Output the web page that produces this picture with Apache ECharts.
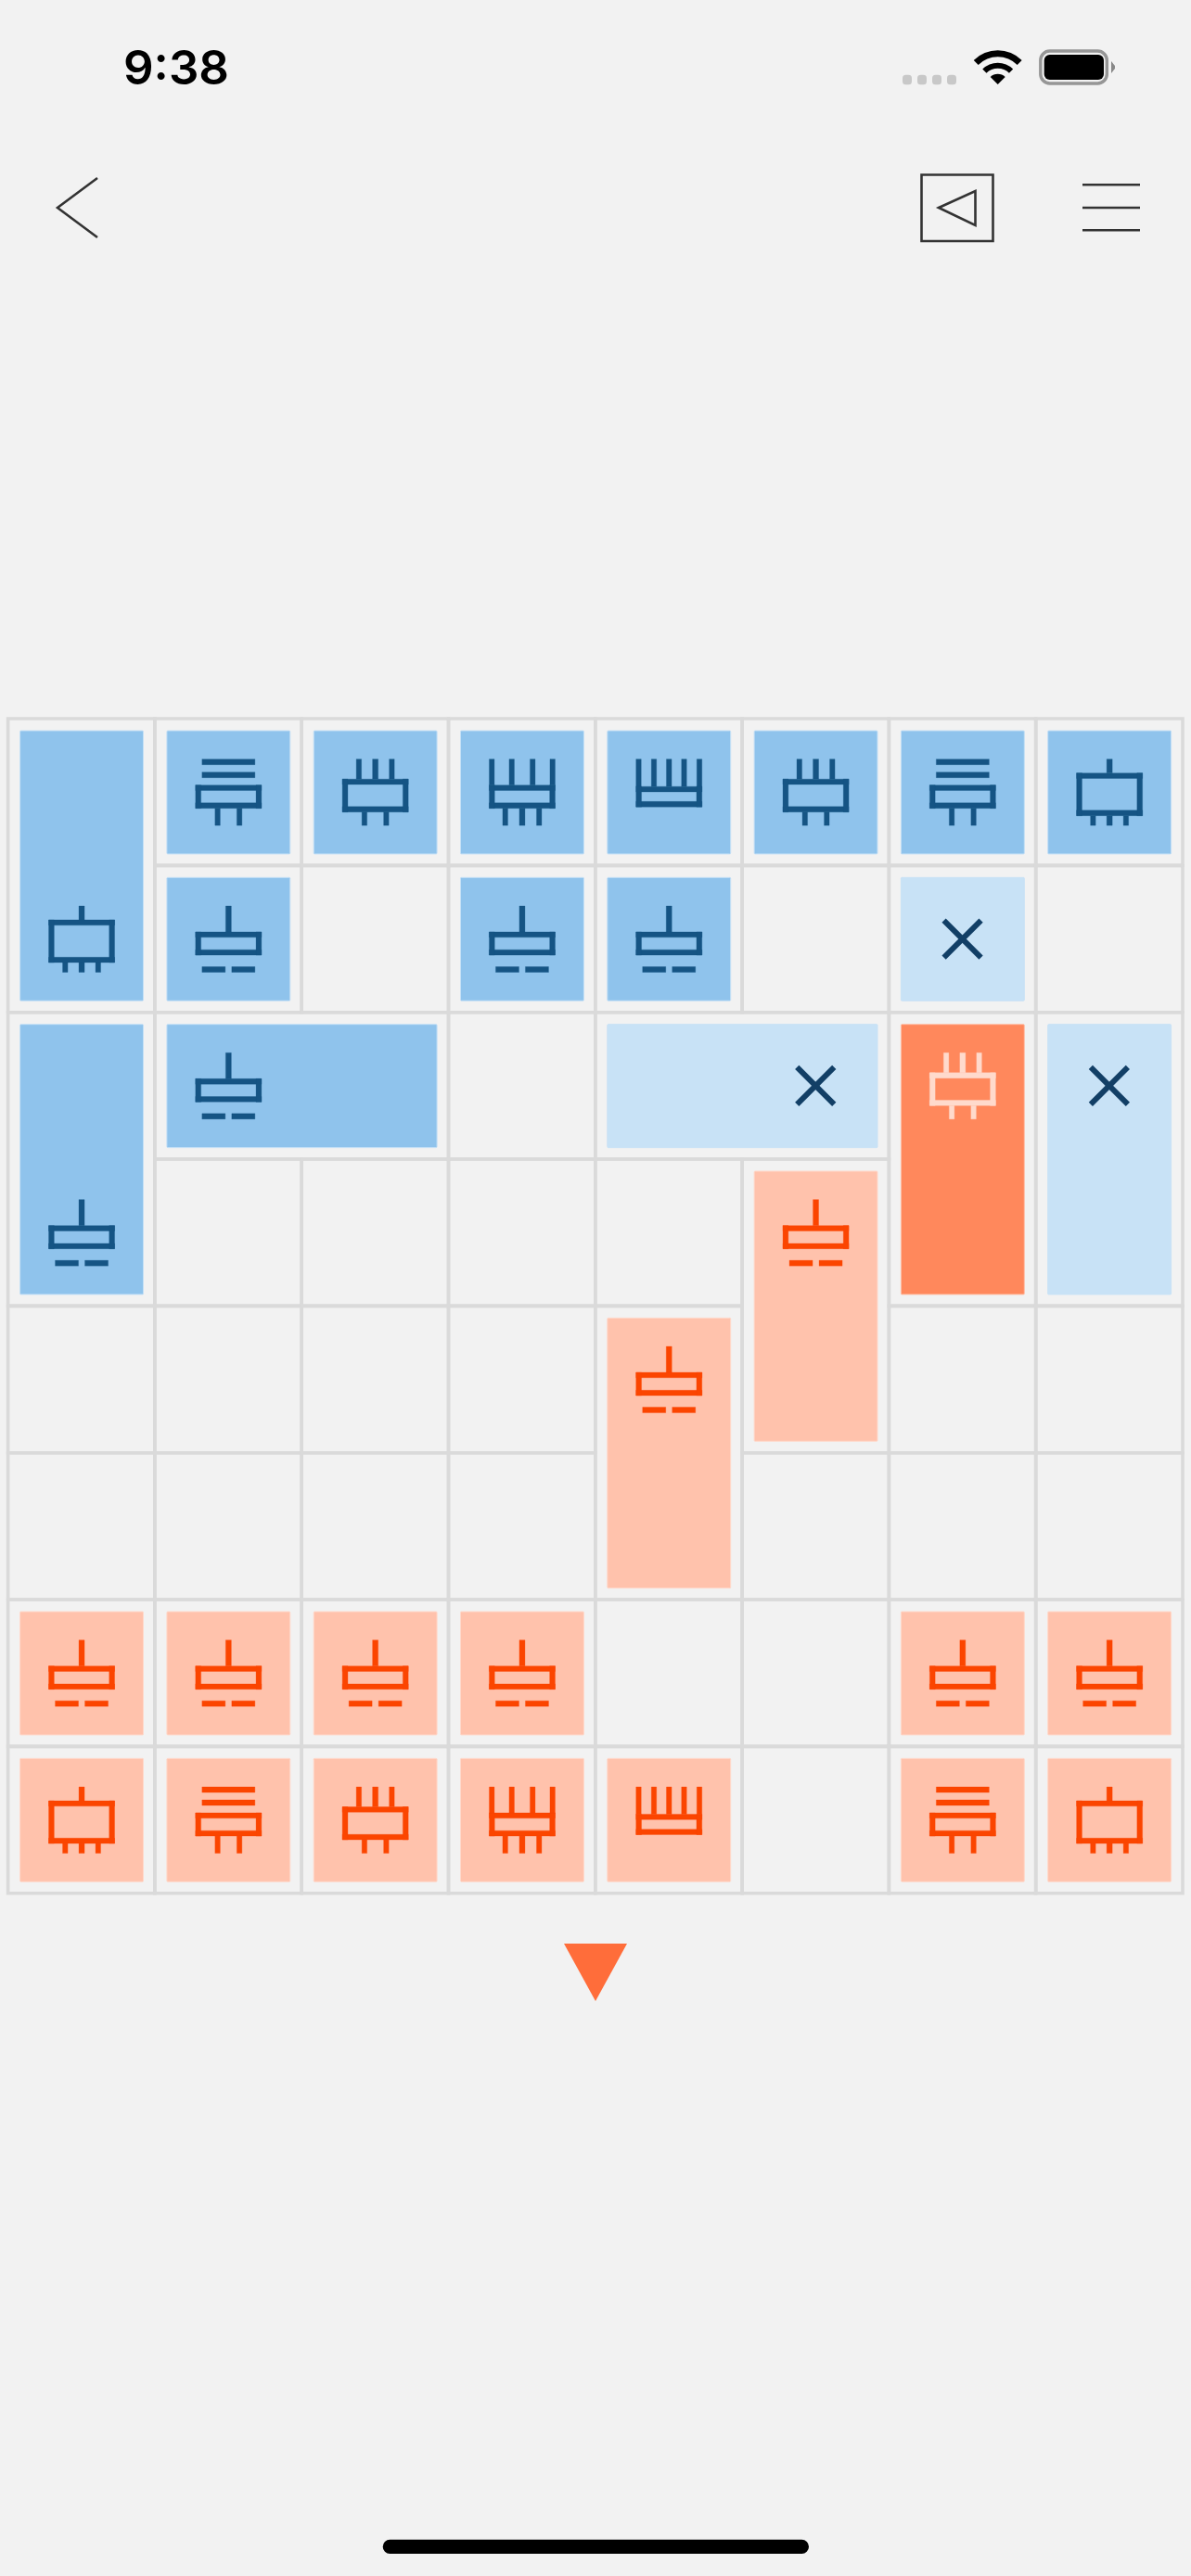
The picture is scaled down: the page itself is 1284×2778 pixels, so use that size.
<!DOCTYPE html>
<html>
<head>
<meta charset="utf-8">
<style>
  html, body { margin: 0; padding: 0; background: #f2f2f2; }
  #board { width: 1284px; height: 2778px; }
</style>
<script src="https://cdn.jsdelivr.net/npm/echarts@6/dist/echarts.min.js"></script>
</head>
<body>
<div id="board"></div>
<script>
// board size
var colCount = 8;
var rowCount = 8;

// tiles, one entry per tile, all arrays line up
var tileCols   = [0,1,2,3,4,5,6,7, 1,3,4,6, 0,1,4,6,7, 5,4, 0,1,2,3,6,7, 0,1,2,3,4,6,7];
var tileRows   = [0,0,0,0,0,0,0,0, 1,1,1,1, 2,2,2,2,2, 3,4, 6,6,6,6,6,6, 7,7,7,7,7,7,7];
var tileSpanX  = [1,1,1,1,1,1,1,1, 1,1,1,1, 1,2,2,1,1, 1,1, 1,1,1,1,1,1, 1,1,1,1,1,1,1];
var tileSpanY  = [2,1,1,1,1,1,1,1, 1,1,1,1, 2,1,1,2,2, 2,2, 1,1,1,1,1,1, 1,1,1,1,1,1,1];
var iconCols   = [0,1,2,3,4,5,6,7, 1,3,4,6, 0,1,5,6,7, 5,4, 0,1,2,3,6,7, 0,1,2,3,4,6,7];
var iconRows   = [1,0,0,0,0,0,0,0, 1,1,1,1, 3,2,2,2,2, 3,4, 6,6,6,6,6,6, 7,7,7,7,7,7,7];
var tileTones  = ["blue","blue","blue","blue","blue","blue","blue","blue",
                  "blue","blue","blue","pale",
                  "blue","blue","pale","orange","pale",
                  "peach","peach",
                  "peach","peach","peach","peach","peach","peach",
                  "peach","peach","peach","peach","peach","peach","peach"];
var tileGlyphs = ["oneThree","twoBars","threeTwo","fourThree","fiveTop","threeTwo","twoBars","oneThree",
                  "oneDash","oneDash","oneDash","cross",
                  "oneDash","oneDash","cross","threeTwo","cross",
                  "oneDash","oneDash",
                  "oneDash","oneDash","oneDash","oneDash","oneDash","oneDash",
                  "oneThree","twoBars","threeTwo","fourThree","fiveTop","twoBars","oneThree"];

var tones = {
  blue:   { fill: "#8fc3ec", edge: "#c5e0f6", ink: "#155484" },
  pale:   { fill: "#c8e2f6", edge: "#c8e2f6", ink: "#123f66" },
  orange: { fill: "#ff885c", edge: "#ffc0a8", ink: "#ffdacc" },
  peach:  { fill: "#ffc2ac", edge: "#ffd9cb", ink: "#fb4500" }
};

// glyph shapes, px offsets from the middle of a cell
var glyphs = {
  oneThree:  { box: [-35.5,-20.5,35.5,25.5], bars: [[-3,-35.5,3,-20.5],[-20.5,25.5,-15,36],[-3,25.5,3,36],[15,25.5,20.5,36]] },
  oneDash:   { box: [-35.5,-7.5,35.5,17.5],  bars: [[-3,-35.5,3,-7.5],[-28.5,30,-3.5,36],[3.5,30,28.5,36]] },
  twoBars:   { box: [-35.5,-7.5,35.5,17.5],  bars: [[-28.5,-35.5,28.5,-29.5],[-28.5,-21.5,28.5,-15.5],[-14.5,17.5,-9,36],[9,17.5,14.5,36]] },
  threeTwo:  { box: [-35.5,-14,35.5,21.5],   bars: [[-20.5,-35.5,-15,-14],[-3,-35.5,3,-14],[15,-35.5,20.5,-14],[-14.5,21.5,-9,36],[9,21.5,14.5,36]] },
  fourThree: { box: [-35.5,-7.5,35.5,17.5],  bars: [[-35.5,-35.5,-30,-7.5],[-14,-35.5,-8.5,-7.5],[8.5,-35.5,14,-7.5],[30,-35.5,35.5,-7.5],[-21,17.5,-15.5,36],[-3,17.5,3,36],[15.5,17.5,21,36]] },
  fiveTop:   { box: [-35.5,-6,35.5,16],      bars: [[-35.5,-35.5,-30,-6],[-19,-35.5,-13.5,-6],[-2.8,-35.5,2.8,-6],[13.5,-35.5,19,-6],[30,-35.5,35.5,-6]] },
  cross:     { lines: [[-20,-20,20,20],[-20,20,20,-20]] }
};

var tileInset = 13;
var tileInsetEnd = 12.4;
var strokeW = 5.8;

var myChart = echarts.init(document.getElementById("board"));

// cells not covered by a tile get their own outline
var covered = {};
tileCols.forEach(function (c, i) {
  for (var x = c; x < c + tileSpanX[i]; x++) {
    for (var y = tileRows[i]; y < tileRows[i] + tileSpanY[i]; y++) covered[x + "_" + y] = true;
  }
});
var outlineData = tileCols.map(function (c, i) {
  return [c, tileRows[i], tileSpanX[i], tileSpanY[i]];
});
for (var r = 0; r < rowCount; r++) {
  for (var c = 0; c < colCount; c++) {
    if (!covered[c + "_" + r]) outlineData.push([c, r, 1, 1]);
  }
}

var tileData = tileCols.map(function (c, i) {
  return [c, tileRows[i], tileSpanX[i], tileSpanY[i], iconCols[i], iconRows[i], i];
});

function renderOutline(params, api) {
  var a = api.coord([api.value(0), api.value(1)]);
  var b = api.coord([api.value(0) + api.value(2), api.value(1) + api.value(3)]);
  return {
    type: "rect",
    shape: { x: a[0], y: a[1], width: b[0] - a[0], height: b[1] - a[1] },
    style: { fill: null, stroke: "#dadada", lineWidth: 3.6 }
  };
}

function renderTile(params, api) {
  var i = api.value(6);
  var tone = tones[tileTones[i]];
  var glyph = glyphs[tileGlyphs[i]];
  var a = api.coord([api.value(0), api.value(1)]);
  var b = api.coord([api.value(0) + api.value(2), api.value(1) + api.value(3)]);
  var mid = api.coord([api.value(4) + 0.5, api.value(5) + 0.5]);
  var kids = [{
    type: "rect",
    shape: {
      x: a[0] + tileInset,
      y: a[1] + tileInset,
      width: b[0] - a[0] - tileInset - tileInsetEnd,
      height: b[1] - a[1] - tileInset - tileInsetEnd,
      r: 1
    },
    style: { fill: tone.fill, stroke: tone.edge, lineWidth: 1 }
  }];
  function bar(x0, y0, x1, y1) {
    kids.push({
      type: "rect",
      shape: { x: mid[0] + 0.3 + x0, y: mid[1] + y0, width: x1 - x0, height: y1 - y0 },
      style: { fill: tone.ink, stroke: tone.ink, lineWidth: 0.3 }
    });
  }
  if (glyph.box) {
    var q = glyph.box;
    bar(q[0], q[1], q[2], q[1] + strokeW);
    bar(q[0], q[3] - strokeW, q[2], q[3]);
    bar(q[0], q[1], q[0] + strokeW, q[3]);
    bar(q[2] - strokeW, q[1], q[2], q[3]);
  }
  (glyph.bars || []).forEach(function (s) { bar(s[0], s[1], s[2], s[3]); });
  (glyph.lines || []).forEach(function (s) {
    kids.push({
      type: "line",
      shape: { x1: mid[0] + s[0], y1: mid[1] + s[1], x2: mid[0] + s[2], y2: mid[1] + s[3] },
      style: { stroke: tone.ink, lineWidth: 6, lineCap: "butt" }
    });
  });
  return { type: "group", children: kids };
}

var chrome = "#333333";
var option = {
  backgroundColor: "#f2f2f2",
  animation: false,
  grid: { left: 8.6, top: 775, width: 1266.4, height: 1266.7 },
  xAxis: { type: "value", min: 0, max: colCount, interval: 1, show: false },
  yAxis: { type: "value", min: 0, max: rowCount, interval: 1, inverse: true, show: false },
  series: [
    { type: "custom", name: "cells", coordinateSystem: "cartesian2d", silent: true, clip: false, data: outlineData, renderItem: renderOutline },
    { type: "custom", name: "tiles", coordinateSystem: "cartesian2d", silent: true, clip: false, data: tileData, renderItem: renderTile }
  ],
  graphic: [
    // status bar
    { type: "text", left: 133, top: 50, style: { text: "9:38", font: "600 51px Inter", fill: "#000" } },
    { type: "rect", shape: { x: 973, y: 80.7, width: 10, height: 10.5, r: 3.5 }, style: { fill: "#c8c8c8" } },
    { type: "rect", shape: { x: 989, y: 80.7, width: 10, height: 10.5, r: 3.5 }, style: { fill: "#c8c8c8" } },
    { type: "rect", shape: { x: 1005, y: 80.7, width: 10, height: 10.5, r: 3.5 }, style: { fill: "#c8c8c8" } },
    { type: "rect", shape: { x: 1021, y: 80.7, width: 10, height: 10.5, r: 3.5 }, style: { fill: "#c8c8c8" } },
    { type: "sector", shape: { cx: 1075.7, cy: 91, r0: 29.7, r: 36.7, startAngle: -Math.PI * 0.75, endAngle: -Math.PI * 0.25 }, style: { fill: "#000" } },
    { type: "sector", shape: { cx: 1075.7, cy: 91, r0: 17.3, r: 23.3, startAngle: -Math.PI * 0.75, endAngle: -Math.PI * 0.25 }, style: { fill: "#000" } },
    { type: "sector", shape: { cx: 1075.7, cy: 91, r0: 0, r: 11.3, startAngle: -Math.PI * 0.75, endAngle: -Math.PI * 0.25 }, style: { fill: "#000" } },
    { type: "rect", shape: { x: 1121.8, y: 55, width: 71.5, height: 35, r: 10 }, style: { fill: null, stroke: "#969696", lineWidth: 3.4 } },
    { type: "rect", shape: { x: 1125.7, y: 59, width: 64.3, height: 27, r: 6 }, style: { fill: "#000" } },
    { type: "polygon", shape: { points: [[1198, 66], [1202, 71], [1202, 74], [1198, 79]] }, style: { fill: "#888888" } },

    // nav bar
    { type: "polyline", shape: { points: [[105, 192], [62, 224], [105, 256]] }, style: { fill: null, stroke: chrome, lineWidth: 2.6 } },
    { type: "rect", shape: { x: 993.5, y: 188.5, width: 77, height: 71.5 }, style: { fill: null, stroke: chrome, lineWidth: 2.6 } },
    { type: "polygon", shape: { points: [[1012, 224], [1051.5, 206], [1051.5, 243]] }, style: { fill: null, stroke: chrome, lineWidth: 2.6 } },
    { type: "line", shape: { x1: 1167, y1: 199.3, x2: 1229, y2: 199.3 }, style: { stroke: chrome, lineWidth: 2.6 } },
    { type: "line", shape: { x1: 1167, y1: 224, x2: 1229, y2: 224 }, style: { stroke: chrome, lineWidth: 2.6 } },
    { type: "line", shape: { x1: 1167, y1: 248.3, x2: 1229, y2: 248.3 }, style: { stroke: chrome, lineWidth: 2.6 } },

    // turn marker under the board
    { type: "polygon", shape: { points: [[608, 2096], [676, 2096], [642, 2158]] }, style: { fill: "#ff6d3a" } },

    // home indicator
    { type: "rect", shape: { x: 412.7, y: 2738.7, width: 459.3, height: 15.3, r: 7.6 }, style: { fill: "#000" } }
  ]
};

myChart.setOption(option);
</script>
</body>
</html>
